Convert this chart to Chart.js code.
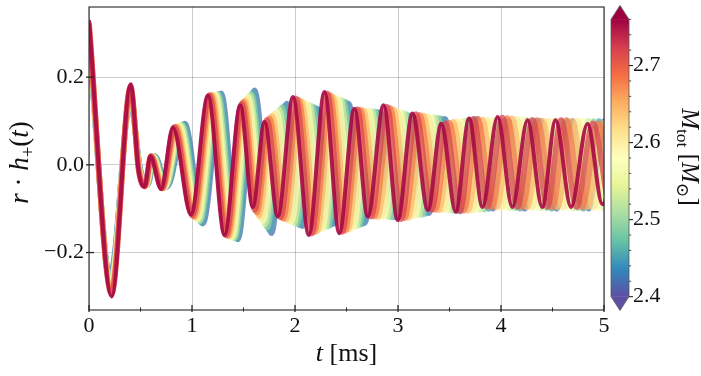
<!DOCTYPE html>
<html>
<head>
<meta charset="utf-8">
<title>Post-merger strain</title>
<script src="https://cdn.jsdelivr.net/npm/chart.js"></script>
<style>
  html, body { margin: 0; padding: 0; background: #fff; }
  #wrap { width: 701px; height: 376px; }
</style>
</head>
<body>
<div id="wrap"><canvas id="wave" width="701" height="376"></canvas></div>
<script>
// extrema of r*h_+(t), one pair of arrays per total mass
const t_2755 = [0, 0.22, 0.405, 0.48, 0.54, 0.595, 0.70, 0.815, 0.99, 1.155, 1.316, 1.468, 1.59, 1.704, 1.833, 1.98, 2.134, 2.286, 2.43, 2.577, 2.706, 2.86, 2.997, 3.14, 3.29, 3.42, 3.56, 3.69, 3.82, 3.967, 4.11, 4.258, 4.40, 4.53, 4.68, 4.84, 4.985, 5.13];
const h_2755 = [0.33, -0.30, 0.184, -0.012, -0.05, 0.02, -0.055, 0.085, -0.113, 0.158, -0.16, 0.136, -0.096, 0.098, -0.118, 0.155, -0.16, 0.166, -0.156, 0.128, -0.118, 0.136, -0.126, 0.117, -0.103, 0.094, -0.107, 0.106, -0.096, 0.109, -0.096, 0.102, -0.096, 0.102, -0.096, 0.094, -0.09, 0.09];

const t_2718 = [0, 0.219, 0.404, 0.482, 0.543, 0.60, 0.707, 0.828, 1.003, 1.169, 1.33, 1.483, 1.61, 1.728, 1.859, 2.007, 2.16, 2.312, 2.457, 2.605, 2.738, 2.892, 3.031, 3.175, 3.326, 3.458, 3.60, 3.733, 3.866, 4.013, 4.158, 4.307, 4.45, 4.583, 4.733, 4.893, 5.039];
const h_2718 = [0.324, -0.294, 0.179, -0.012, -0.049, 0.02, -0.054, 0.086, -0.115, 0.159, -0.161, 0.140, -0.103, 0.103, -0.120, 0.152, -0.157, 0.163, -0.153, 0.127, -0.118, 0.133, -0.124, 0.116, -0.103, 0.095, -0.106, 0.105, -0.096, 0.108, -0.096, 0.102, -0.096, 0.102, -0.096, 0.095, -0.091];

const t_2681 = [0, 0.218, 0.404, 0.484, 0.547, 0.605, 0.713, 0.841, 1.016, 1.184, 1.345, 1.499, 1.63, 1.752, 1.886, 2.033, 2.186, 2.338, 2.484, 2.633, 2.769, 2.923, 3.064, 3.21, 3.361, 3.497, 3.64, 3.776, 3.911, 4.06, 4.206, 4.355, 4.50, 4.636, 4.787, 4.946, 5.093];
const h_2681 = [0.319, -0.288, 0.174, -0.012, -0.049, 0.02, -0.054, 0.087, -0.118, 0.159, -0.162, 0.144, -0.109, 0.107, -0.123, 0.149, -0.154, 0.160, -0.151, 0.126, -0.118, 0.130, -0.122, 0.114, -0.103, 0.096, -0.105, 0.105, -0.097, 0.107, -0.097, 0.102, -0.097, 0.102, -0.097, 0.095, -0.092];

const t_2643 = [0, 0.217, 0.403, 0.487, 0.55, 0.61, 0.72, 0.853, 1.029, 1.198, 1.359, 1.514, 1.65, 1.776, 1.912, 2.06, 2.213, 2.364, 2.512, 2.661, 2.801, 2.955, 3.098, 3.245, 3.397, 3.535, 3.68, 3.818, 3.957, 4.106, 4.253, 4.404, 4.55, 4.688, 4.84, 4.998, 5.147];
const h_2643 = [0.313, -0.282, 0.169, -0.012, -0.048, 0.02, -0.053, 0.088, -0.12, 0.16, -0.163, 0.147, -0.116, 0.112, -0.125, 0.146, -0.152, 0.157, -0.148, 0.125, -0.119, 0.127, -0.121, 0.113, -0.104, 0.098, -0.105, 0.104, -0.097, 0.106, -0.097, 0.101, -0.097, 0.101, -0.097, 0.096, -0.093];

const t_2606 = [0, 0.216, 0.403, 0.489, 0.553, 0.615, 0.727, 0.866, 1.042, 1.212, 1.373, 1.53, 1.67, 1.80, 1.938, 2.087, 2.239, 2.39, 2.539, 2.689, 2.832, 2.987, 3.132, 3.28, 3.432, 3.573, 3.72, 3.861, 4.002, 4.153, 4.301, 4.452, 4.60, 4.741, 4.893, 5.051];
const h_2606 = [0.308, -0.276, 0.164, -0.012, -0.048, 0.02, -0.053, 0.089, -0.122, 0.16, -0.164, 0.151, -0.123, 0.117, -0.128, 0.143, -0.149, 0.154, -0.146, 0.124, -0.119, 0.124, -0.119, 0.112, -0.104, 0.099, -0.104, 0.103, -0.098, 0.105, -0.098, 0.101, -0.098, 0.101, -0.098, 0.097];

const t_2569 = [0, 0.214, 0.402, 0.491, 0.557, 0.62, 0.733, 0.879, 1.054, 1.227, 1.388, 1.545, 1.69, 1.824, 1.965, 2.113, 2.265, 2.416, 2.566, 2.718, 2.864, 3.018, 3.165, 3.315, 3.468, 3.612, 3.76, 3.904, 4.048, 4.199, 4.349, 4.501, 4.65, 4.794, 4.947, 5.104];
const h_2569 = [0.302, -0.269, 0.16, -0.012, -0.047, 0.02, -0.052, 0.09, -0.125, 0.161, -0.166, 0.155, -0.129, 0.121, -0.13, 0.14, -0.146, 0.152, -0.143, 0.124, -0.119, 0.122, -0.117, 0.11, -0.104, 0.1, -0.103, 0.103, -0.098, 0.104, -0.098, 0.101, -0.098, 0.101, -0.098, 0.097];

const t_2532 = [0, 0.213, 0.402, 0.493, 0.56, 0.625, 0.74, 0.892, 1.067, 1.241, 1.402, 1.561, 1.71, 1.848, 1.991, 2.14, 2.291, 2.442, 2.593, 2.746, 2.895, 3.05, 3.199, 3.35, 3.503, 3.65, 3.80, 3.947, 4.093, 4.246, 4.397, 4.549, 4.70, 4.847, 5.00, 5.157];
const h_2532 = [0.297, -0.263, 0.155, -0.012, -0.047, 0.02, -0.052, 0.091, -0.127, 0.161, -0.167, 0.159, -0.136, 0.126, -0.133, 0.137, -0.143, 0.149, -0.141, 0.123, -0.119, 0.119, -0.115, 0.109, -0.104, 0.101, -0.102, 0.102, -0.099, 0.103, -0.099, 0.101, -0.099, 0.101, -0.099, 0.098];

const t_2494 = [0, 0.212, 0.401, 0.496, 0.563, 0.63, 0.747, 0.904, 1.08, 1.255, 1.416, 1.576, 1.73, 1.872, 2.017, 2.167, 2.318, 2.468, 2.621, 2.774, 2.927, 3.082, 3.233, 3.385, 3.539, 3.688, 3.84, 3.989, 4.139, 4.292, 4.444, 4.598, 4.75, 4.899, 5.053];
const h_2494 = [0.291, -0.257, 0.15, -0.012, -0.046, 0.02, -0.051, 0.092, -0.129, 0.162, -0.168, 0.162, -0.143, 0.131, -0.135, 0.134, -0.141, 0.146, -0.138, 0.122, -0.12, 0.116, -0.114, 0.108, -0.105, 0.103, -0.102, 0.101, -0.099, 0.102, -0.099, 0.1, -0.099, 0.1, -0.099];

const t_2457 = [0, 0.211, 0.401, 0.498, 0.567, 0.635, 0.753, 0.917, 1.093, 1.27, 1.431, 1.592, 1.75, 1.896, 2.044, 2.193, 2.344, 2.494, 2.648, 2.802, 2.958, 3.113, 3.266, 3.42, 3.574, 3.727, 3.88, 4.032, 4.184, 4.339, 4.492, 4.646, 4.80, 4.952, 5.107];
const h_2457 = [0.286, -0.251, 0.145, -0.012, -0.046, 0.02, -0.051, 0.093, -0.132, 0.162, -0.169, 0.166, -0.149, 0.135, -0.138, 0.131, -0.138, 0.143, -0.136, 0.121, -0.12, 0.113, -0.112, 0.106, -0.105, 0.104, -0.101, 0.101, -0.1, 0.101, -0.1, 0.1, -0.1, 0.1, -0.1];

const t_2420 = [0, 0.21, 0.40, 0.50, 0.57, 0.64, 0.76, 0.93, 1.106, 1.284, 1.445, 1.607, 1.77, 1.92, 2.07, 2.22, 2.37, 2.52, 2.675, 2.83, 2.99, 3.145, 3.30, 3.455, 3.61, 3.765, 3.92, 4.075, 4.23, 4.385, 4.54, 4.695, 4.85, 5.005, 5.16];
const h_2420 = [0.28, -0.245, 0.14, -0.012, -0.045, 0.02, -0.05, 0.094, -0.134, 0.163, -0.17, 0.17, -0.156, 0.14, -0.14, 0.128, -0.135, 0.14, -0.133, 0.12, -0.12, 0.11, -0.11, 0.105, -0.105, 0.105, -0.10, 0.10, -0.10, 0.10, -0.10, 0.10, -0.10, 0.10, -0.10];

// heaviest first so that it ends up on top
const massTot = [2.755, 2.718, 2.681, 2.643, 2.606, 2.569, 2.532, 2.494, 2.457, 2.42];
const waveT = [t_2755, t_2718, t_2681, t_2643, t_2606, t_2569, t_2532, t_2494, t_2457, t_2420];
const waveH = [h_2755, h_2718, h_2681, h_2643, h_2606, h_2569, h_2532, h_2494, h_2457, h_2420];

const xTicks = [0, 1, 2, 3, 4, 5];
const xMinor = [0.5, 1.5, 2.5, 3.5, 4.5];
const yTicks = [-0.2, 0.0, 0.2];
const cbTicks = [2.4, 2.5, 2.6, 2.7];
const cbMinor = [2.42, 2.44, 2.46, 2.48, 2.52, 2.54, 2.56, 2.58, 2.62, 2.64, 2.66, 2.68, 2.72, 2.74, 2.76];
const vMin = 2.4, vMax = 2.76;

const FONT = "'Liberation Serif', 'DejaVu Serif', serif";
const spectralR = ['#5e4fa2', '#3288bd', '#66c2a5', '#abdda4', '#e6f598', '#ffffbf',
                   '#fee08b', '#fdae61', '#f46d43', '#d53e4f', '#9e0142'];

function hexRgb(h) {
  return [1, 3, 5].map(i => parseInt(h.substr(i, 2), 16));
}
function cmap(m, alpha) {
  let u = (m - vMin) / (vMax - vMin);
  u = Math.max(0, Math.min(1, u));
  const p = u * 10, i = Math.min(9, Math.floor(p)), f = p - i;
  const a = hexRgb(spectralR[i]), b = hexRgb(spectralR[i + 1]);
  const c = a.map((v, k) => Math.round(v + (b[k] - v) * f));
  return `rgba(${c[0]},${c[1]},${c[2]},${alpha})`;
}

const datasets = massTot.map((m, k) => ({
  data: waveT[k].map((t, i) => ({ x: t, y: waveH[k][i] })),
  borderColor: cmap(m, k === 0 ? 0.9 : 0.75),
  borderWidth: k === 0 ? 4 : 5.6,
  pointRadius: 0,
  fill: false,
  cubicInterpolationMode: 'monotone',
  clip: 0
}));

// rich text, centred on the current origin
function rich(ctx, parts, size) {
  const seg = parts.map(p => {
    const s = p.sub ? size * 0.7 : size;
    const f = (p.it ? 'italic ' : '') + s + 'px ' + FONT;
    ctx.font = f;
    return { p, f, w: ctx.measureText(p.t).width, dy: p.sub ? size * 0.22 : 0 };
  });
  const W = seg.reduce((a, s) => a + s.w, 0);
  let x = -W / 2;
  seg.forEach(s => { ctx.font = s.f; ctx.fillText(s.p.t, x, s.dy); x += s.w; });
}

function seg(ctx, x1, y1, x2, y2) {
  ctx.beginPath(); ctx.moveTo(x1, y1); ctx.lineTo(x2, y2); ctx.stroke();
}

const decor = {
  id: 'decor',
  afterDatasetsDraw(chart) {
    const { ctx, chartArea: a, scales: { x, y, cb } } = chart;
    ctx.save();
    // frame and ticks
    ctx.strokeStyle = '#262626';
    ctx.lineWidth = 1.1;
    ctx.strokeRect(a.left, a.top, a.right - a.left, a.bottom - a.top);
    ctx.lineWidth = 1.3;
    xTicks.forEach(v => { const p = x.getPixelForValue(v); seg(ctx, p, a.bottom + 2, p, a.bottom - 5); });
    ctx.lineWidth = 1;
    xMinor.forEach(v => { const p = x.getPixelForValue(v); seg(ctx, p, a.bottom + 1.5, p, a.bottom - 2.5); });
    ctx.lineWidth = 1.3;
    yTicks.forEach(v => { const p = y.getPixelForValue(v); seg(ctx, a.left - 3, p, a.left + 5, p); });

    // colour bar
    const x0 = a.right + 7, w = 18;
    const yT = cb.getPixelForValue(vMax), yB = cb.getPixelForValue(vMin);
    const ext = (yB - yT) * 0.05;
    const g = ctx.createLinearGradient(0, yB, 0, yT);
    spectralR.forEach((c, i) => g.addColorStop(i / 10, c));
    ctx.fillStyle = g;
    ctx.fillRect(x0, yT, w, yB - yT);
    ctx.fillStyle = spectralR[10];
    ctx.beginPath(); ctx.moveTo(x0, yT + 0.5); ctx.lineTo(x0 + w / 2, yT - ext); ctx.lineTo(x0 + w, yT + 0.5); ctx.closePath(); ctx.fill();
    ctx.fillStyle = spectralR[0];
    ctx.beginPath(); ctx.moveTo(x0, yB - 0.5); ctx.lineTo(x0 + w / 2, yB + ext); ctx.lineTo(x0 + w, yB - 0.5); ctx.closePath(); ctx.fill();
    ctx.strokeStyle = '#555';
    ctx.lineWidth = 0.8;
    ctx.beginPath();
    ctx.moveTo(x0, yT); ctx.lineTo(x0 + w / 2, yT - ext); ctx.lineTo(x0 + w, yT);
    ctx.lineTo(x0 + w, yB); ctx.lineTo(x0 + w / 2, yB + ext); ctx.lineTo(x0, yB);
    ctx.closePath(); ctx.stroke();
    ctx.strokeStyle = '#262626';
    ctx.lineWidth = 1.1;
    cbTicks.forEach(v => { const p = cb.getPixelForValue(v); seg(ctx, x0 + w, p, x0 + w + 4, p); });
    ctx.lineWidth = 0.8;
    cbMinor.forEach(v => { const p = cb.getPixelForValue(v); seg(ctx, x0 + w, p, x0 + w + 2.2, p); });
    ctx.restore();
  },
  afterDraw(chart) {
    const { ctx, chartArea: a } = chart;
    ctx.save();
    ctx.fillStyle = '#111';
    ctx.textAlign = 'left';
    ctx.textBaseline = 'alphabetic';
    // x title
    ctx.save();
    ctx.translate((a.left + a.right) / 2, 361);
    rich(ctx, [{ t: 't', it: true }, { t: ' [ms]' }], 26);
    ctx.restore();
    // y title
    ctx.save();
    ctx.translate(28, (a.top + a.bottom) / 2 + 4);
    ctx.rotate(-Math.PI / 2);
    rich(ctx, [{ t: 'r', it: true }, { t: ' \u00b7 ' }, { t: 'h', it: true }, { t: '+', sub: true }, { t: '(' }, { t: 't', it: true }, { t: ')' }], 27);
    ctx.restore();
    // colour bar title
    ctx.save();
    ctx.translate(682, 157);
    ctx.rotate(Math.PI / 2);
    rich(ctx, [{ t: 'M', it: true }, { t: 'tot', sub: true }, { t: ' [' }, { t: 'M', it: true }, { t: '\u2299', sub: true }, { t: ']' }], 25);
    ctx.restore();
    ctx.restore();
  }
};

const tickFont = { family: FONT, size: 22 };
// keep the plot box where the reference has it
function noPad(s) { s.paddingTop = 0; s.paddingBottom = 0; s.paddingLeft = 0; s.paddingRight = 0; }

new Chart(document.getElementById('wave'), {
  type: 'line',
  data: { datasets },
  plugins: [decor],
  options: {
    responsive: false,
    animation: false,
    devicePixelRatio: 1,
    layout: { padding: { top: 7, left: 0, right: 0, bottom: 0 } },
    plugins: { legend: { display: false }, tooltip: { enabled: false }, title: { display: false } },
    scales: {
      x: {
        type: 'linear', min: 0, max: 5,
        afterFit: s => { s.height = 66; noPad(s); },
        afterBuildTicks: s => { s.ticks = xTicks.map(v => ({ value: v })); },
        ticks: { font: tickFont, color: '#111', padding: 3, maxRotation: 0, callback: v => String(v) },
        grid: { color: 'rgba(0,0,0,0.2)', lineWidth: 1, drawTicks: false },
        border: { display: false }
      },
      y: {
        type: 'linear', min: -0.331, max: 0.36,
        afterFit: s => { s.width = 89; noPad(s); },
        afterBuildTicks: s => { s.ticks = yTicks.map(v => ({ value: v })); },
        ticks: { font: tickFont, color: '#111', padding: 5,
                 callback: v => (v < 0 ? '\u2212' : '') + Math.abs(v).toFixed(1) },
        grid: { color: 'rgba(0,0,0,0.2)', lineWidth: 1, drawTicks: false },
        border: { display: false }
      },
      cb: {
        type: 'linear', position: 'right', min: 2.3827, max: 2.776,
        afterFit: s => { s.width = 97; noPad(s); },
        afterBuildTicks: s => { s.ticks = cbTicks.map(v => ({ value: v })); },
        ticks: { font: tickFont, color: '#111', padding: 29, callback: v => v.toFixed(1) },
        grid: { display: false, drawTicks: false },
        border: { display: false }
      }
    }
  }
});
</script>
</body>
</html>
